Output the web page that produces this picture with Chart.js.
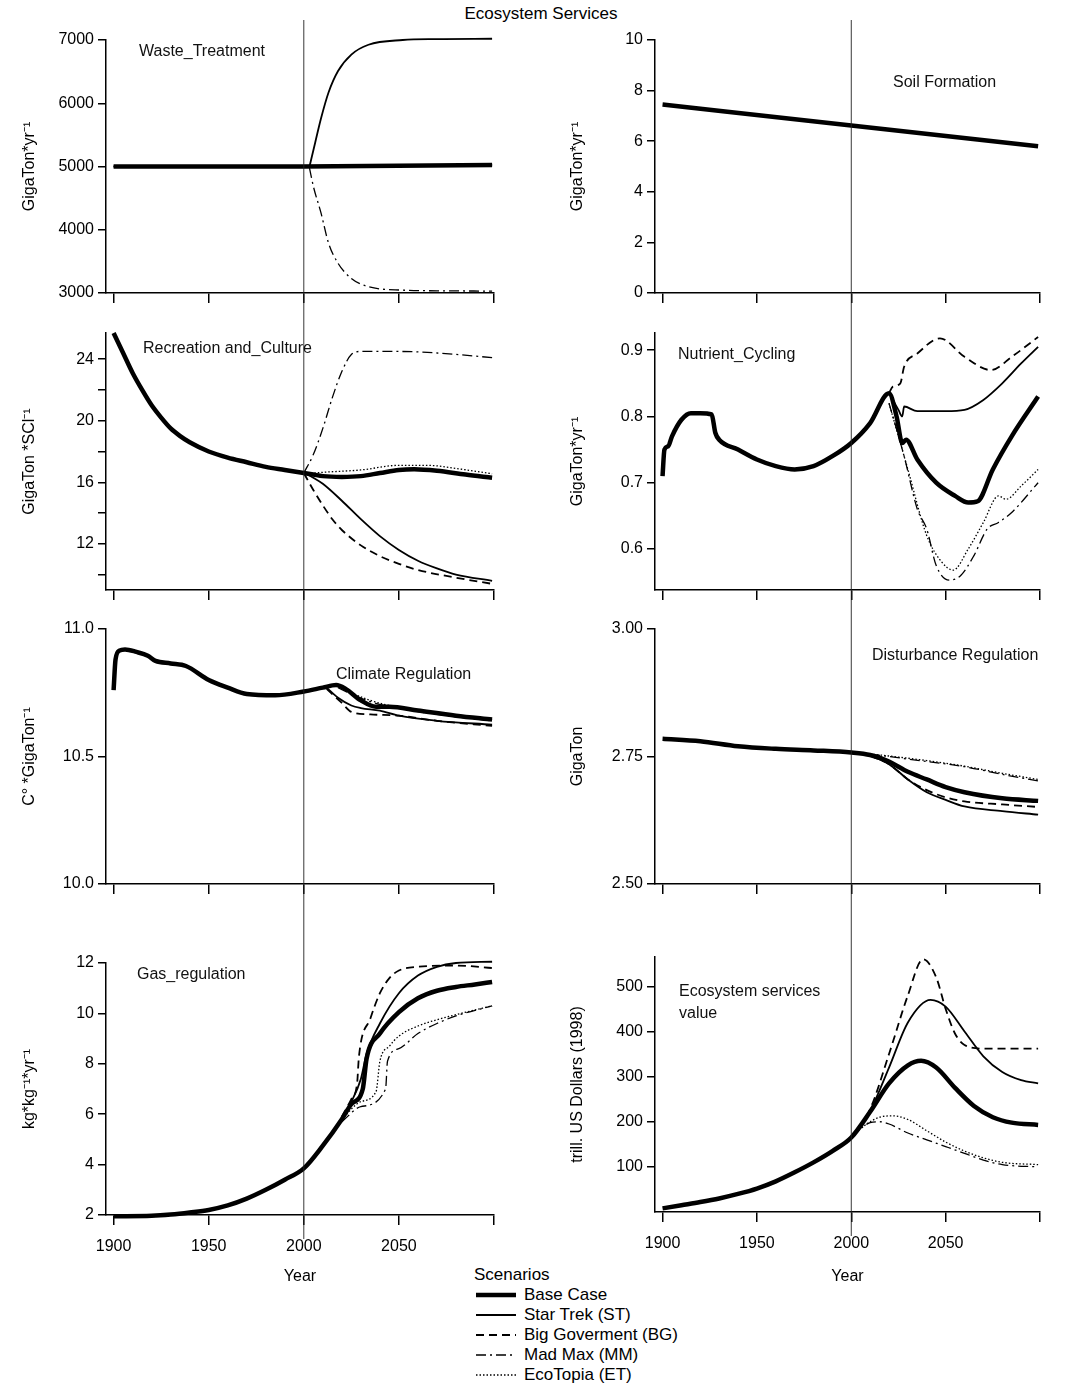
<!DOCTYPE html>
<html>
<head>
<meta charset="utf-8">
<script src="https://cdn.jsdelivr.net/npm/chart.js@4.4.1/dist/chart.umd.min.js"></script>
<style>
  body { margin: 0; background: #fff; width: 1082px; height: 1390px; position: relative; font-family: "Liberation Sans", Arial, sans-serif; }
  canvas { position: absolute; }
  #title { position: absolute; top: 4px; left: 0; width: 1082px; text-align: center; font-size: 17px; }
  #legend { position: absolute; left: 474px; top: 1265px; font-size: 17px; line-height: 20px; }
  #legend .row { display: flex; align-items: center; }
  #legend svg { margin-right: 6px; }
</style>
</head>
<body>
<div id="title">Ecosystem Services</div>
<div id="legend"></div>

<script>
// ---- data: [year, value] pairs ----
const SCENARIOS = ['Base Case', 'Star Trek (ST)', 'Big Goverment (BG)', 'Mad Max (MM)', 'EcoTopia (ET)'];
const X_TICKS = [1900, 1950, 2000, 2050, 2100];

const wasteBase = [[1900, 5000], [2000, 5000], [2099, 5025]];
const wasteST = [[2003, 5000], [2006, 5380], [2009, 5755], [2013, 6170], [2018, 6510], [2025, 6770], [2034, 6925], [2052, 7000], [2070, 7015], [2099, 7020]];
const wasteMM = [[2003, 4975], [2005, 4690], [2009, 4270], [2013, 3790], [2018, 3470], [2025, 3230], [2034, 3100], [2052, 3045], [2070, 3035], [2099, 3030]];

const soilBase = [[1900, 7.45], [2000, 6.62], [2099, 5.8]];

const recBase = [[1900, 25.7], [1905, 24.4], [1910, 23.1], [1915, 22.0], [1920, 21.0], [1925, 20.2], [1930, 19.5], [1935, 19.0], [1940, 18.6], [1950, 18.0], [1960, 17.6], [1970, 17.3], [1980, 17.0], [1990, 16.8], [2000, 16.6], [2005, 16.5], [2010, 16.4], [2020, 16.35], [2030, 16.4], [2040, 16.6], [2050, 16.8], [2058, 16.85], [2070, 16.75], [2085, 16.5], [2099, 16.3]];
const recST = [[2000, 16.6], [2005, 16.3], [2010, 15.9], [2020, 14.8], [2030, 13.6], [2040, 12.5], [2050, 11.6], [2060, 10.9], [2070, 10.4], [2080, 10.0], [2099, 9.6]];
const recBG = [[2000, 16.6], [2005, 15.5], [2010, 14.5], [2015, 13.6], [2020, 12.9], [2030, 11.9], [2040, 11.2], [2050, 10.7], [2060, 10.3], [2080, 9.8], [2099, 9.4]];
const recMM = [[2000, 16.6], [2005, 17.8], [2010, 19.5], [2015, 21.5], [2020, 23.2], [2025, 24.3], [2030, 24.5], [2050, 24.5], [2070, 24.4], [2099, 24.1]];
const recET = [[2000, 16.6], [2005, 16.6], [2010, 16.65], [2030, 16.8], [2050, 17.1], [2065, 17.1], [2080, 16.9], [2099, 16.55]];

const nutBase = [[1900, 0.71], [1901, 0.75], [1903, 0.755], [1905, 0.77], [1910, 0.795], [1915, 0.805], [1920, 0.805], [1926, 0.803], [1928, 0.775], [1930, 0.765], [1940, 0.75], [1950, 0.735], [1960, 0.725], [1970, 0.72], [1980, 0.725], [1990, 0.74], [2000, 0.76], [2010, 0.79], [2020, 0.835], [2024, 0.80], [2027, 0.76], [2029, 0.765], [2035, 0.735], [2045, 0.70], [2055, 0.68], [2062, 0.67], [2067, 0.672], [2075, 0.72], [2085, 0.77], [2099, 0.83]];
const nutST = [[2020, 0.835], [2025, 0.81], [2027, 0.80], [2028, 0.815], [2035, 0.808], [2050, 0.808], [2060, 0.81], [2070, 0.825], [2080, 0.85], [2090, 0.88], [2099, 0.905]];
const nutBG = [[2020, 0.835], [2022, 0.845], [2026, 0.85], [2028, 0.875], [2035, 0.895], [2047, 0.918], [2060, 0.89], [2074, 0.87], [2085, 0.89], [2099, 0.92]];
const nutMM = [[2020, 0.82], [2028, 0.74], [2035, 0.66], [2040, 0.63], [2045, 0.575], [2052, 0.553], [2058, 0.56], [2065, 0.59], [2072, 0.63], [2078, 0.64], [2085, 0.655], [2099, 0.70]];
const nutET = [[2020, 0.82], [2030, 0.72], [2040, 0.62], [2048, 0.58], [2054, 0.568], [2062, 0.60], [2070, 0.64], [2078, 0.68], [2082, 0.675], [2090, 0.695], [2099, 0.72]];

const cliBase = [[1900, 10.76], [1901, 10.88], [1903, 10.915], [1906, 10.92], [1912, 10.91], [1918, 10.895], [1922, 10.875], [1930, 10.865], [1938, 10.855], [1950, 10.80], [1960, 10.77], [1970, 10.745], [1985, 10.74], [2000, 10.755], [2010, 10.77], [2017, 10.78], [2022, 10.765], [2030, 10.72], [2038, 10.695], [2045, 10.695], [2060, 10.68], [2080, 10.66], [2099, 10.645]];
const cliST = [[2012, 10.77], [2018, 10.73], [2025, 10.70], [2030, 10.69], [2040, 10.68], [2050, 10.66], [2070, 10.64], [2099, 10.625]];
const cliBG = [[2012, 10.765], [2020, 10.71], [2025, 10.675], [2035, 10.665], [2050, 10.66], [2070, 10.64], [2099, 10.62]];
const cliMM = [[2018, 10.77], [2025, 10.745], [2035, 10.715], [2050, 10.69], [2070, 10.665], [2099, 10.64]];
const cliET = [[2020, 10.77], [2025, 10.75], [2035, 10.72], [2045, 10.70], [2060, 10.68], [2099, 10.645]];

const disBase = [[1900, 2.785], [1920, 2.78], [1940, 2.77], [1960, 2.765], [1980, 2.762], [2000, 2.758], [2010, 2.753], [2020, 2.74], [2030, 2.72], [2040, 2.705], [2050, 2.69], [2060, 2.68], [2080, 2.668], [2099, 2.663]];
const disST = [[2010, 2.752], [2020, 2.735], [2030, 2.705], [2040, 2.68], [2050, 2.665], [2060, 2.652], [2080, 2.643], [2099, 2.636]];
const disBG = [[2010, 2.752], [2020, 2.735], [2030, 2.705], [2040, 2.684], [2050, 2.67], [2060, 2.662], [2080, 2.656], [2099, 2.651]];
const disMM = [[2010, 2.755], [2020, 2.75], [2040, 2.74], [2060, 2.73], [2080, 2.715], [2099, 2.702]];
const disET = [[2010, 2.755], [2020, 2.751], [2040, 2.742], [2060, 2.731], [2080, 2.717], [2099, 2.705]];

const gasBase = [[1900, 1.95], [1920, 1.97], [1930, 2.02], [1940, 2.1], [1950, 2.2], [1960, 2.38], [1970, 2.65], [1980, 3.0], [1990, 3.4], [2000, 3.85], [2010, 4.75], [2020, 5.8], [2025, 6.4], [2031, 7.0], [2033, 8.2], [2040, 9.2], [2050, 10.05], [2060, 10.6], [2070, 10.9], [2080, 11.05], [2090, 11.15], [2099, 11.25]];
const gasST = [[2020, 5.85], [2025, 6.5], [2030, 7.4], [2033, 8.4], [2040, 9.6], [2050, 10.8], [2060, 11.5], [2070, 11.85], [2080, 12.0], [2099, 12.05]];
const gasBG = [[2020, 5.9], [2025, 6.6], [2028, 7.2], [2029, 8.3], [2035, 9.8], [2040, 10.8], [2045, 11.4], [2050, 11.7], [2060, 11.85], [2080, 11.9], [2099, 11.8]];
const gasMM = [[2020, 5.7], [2030, 6.3], [2043, 7.0], [2044, 8.1], [2050, 8.6], [2060, 9.2], [2070, 9.6], [2080, 9.9], [2099, 10.3]];
const gasET = [[2020, 5.8], [2030, 6.5], [2038, 6.9], [2040, 8.1], [2045, 8.7], [2050, 9.1], [2060, 9.5], [2070, 9.75], [2080, 9.95], [2099, 10.3]];

const valBase = [[1900, 8], [1910, 15], [1920, 22], [1930, 30], [1940, 40], [1950, 52], [1960, 68], [1970, 88], [1980, 110], [1990, 135], [2000, 165], [2010, 222], [2020, 285], [2030, 325], [2037, 335], [2045, 320], [2055, 275], [2065, 235], [2075, 210], [2085, 198], [2099, 193]];
const valST = [[2000, 165], [2010, 224], [2020, 320], [2030, 420], [2042, 470], [2050, 455], [2060, 400], [2070, 345], [2080, 310], [2090, 292], [2099, 285]];
const valBG = [[2000, 165], [2010, 228], [2020, 350], [2030, 480], [2038, 560], [2045, 520], [2050, 450], [2055, 395], [2060, 370], [2070, 362], [2099, 362]];
const valMM = [[2000, 165], [2005, 185], [2010, 198], [2015, 200], [2020, 195], [2030, 175], [2040, 160], [2050, 145], [2060, 130], [2070, 115], [2080, 105], [2099, 100]];
const valET = [[2000, 165], [2005, 185], [2010, 200], [2015, 210], [2022, 213], [2030, 205], [2040, 180], [2050, 155], [2060, 135], [2070, 120], [2080, 110], [2099, 105]];

// ---- styling ----
const FONT = '"Liberation Sans", Arial, sans-serif';
const STYLES = [
  { width: 4.5, dash: [] },
  { width: 1.8, dash: [] },
  { width: 1.8, dash: [8, 5] },
  { width: 1.3, dash: [10, 4, 2, 4] },
  { width: 1.3, dash: [1.5, 2] },
];

const panels = [
  { col: 0, top: 20, h: 295, pad: 20, xh: 22, min: 3000, max: 7000, step: 1000, ytitle: 'GigaTon*yr⁻¹',
    series: [wasteBase, wasteST, wasteBase, wasteMM, wasteBase], label: ['Waste_Treatment'], lx: 139, ly: 52 },
  { col: 1, top: 20, h: 295, pad: 20, xh: 22, min: 0, max: 10, step: 2, ytitle: 'GigaTon*yr⁻¹',
    series: [soilBase], label: ['Soil Formation'], lx: 893, ly: 83 },
  { col: 0, top: 315, h: 290, pad: 18, xh: 15, min: 9.0, max: 25.7, ticks: [10, 12, 14, 16, 18, 20, 22, 24], show: [12, 16, 20, 24], ytitle: 'GigaTon *SCl⁻¹',
    series: [recBase, recST, recBG, recMM, recET], label: ['Recreation and_Culture'], lx: 143, ly: 349 },
  { col: 1, top: 315, h: 290, pad: 18, xh: 15, min: 0.538, max: 0.926, ticks: [0.6, 0.7, 0.8, 0.9], ytitle: 'GigaTon*yr⁻¹',
    series: [nutBase, nutST, nutBG, nutMM, nutET], label: ['Nutrient_Cycling'], lx: 678, ly: 355 },
  { col: 0, top: 605, h: 300, pad: 24, xh: 21, min: 10, max: 11, step: 0.5, dec: 1, ytitle: 'C° *GigaTon⁻¹',
    series: [cliBase, cliST, cliBG, cliMM, cliET], label: ['Climate Regulation'], lx: 336, ly: 675 },
  { col: 1, top: 605, h: 300, pad: 24, xh: 21, min: 2.5, max: 3.0, step: 0.25, dec: 2, ytitle: 'GigaTon',
    series: [disBase, disST, disBG, disMM, disET], label: ['Disturbance Regulation'], lx: 872, ly: 656 },
  { col: 0, top: 905, h: 385, pad: 58, xh: 75, min: 2, max: 12, step: 2, ytitle: 'kg*kg⁻¹*yr⁻¹', bottom: true,
    series: [gasBase, gasST, gasBG, gasMM, gasET], label: ['Gas_regulation'], lx: 137, ly: 975 },
  { col: 1, top: 905, h: 385, pad: 52, xh: 78, min: 0, max: 565, ticks: [100, 200, 300, 400, 500], ytitle: 'trill. US Dollars (1998)', bottom: true,
    series: [valBase, valST, valBG, valMM, valET], label: ['Ecosystem services', 'value'], lx: 679, ly: 992 },
];

const overlay = {
  id: 'overlay',
  afterDatasetsDraw(chart, args, opts) {
    const { ctx, chartArea } = chart;
    const x = chart.scales.x.getPixelForValue(2000);
    ctx.save();
    ctx.strokeStyle = '#222';
    ctx.lineWidth = 0.9;
    ctx.beginPath();
    ctx.moveTo(x, 0);
    ctx.lineTo(x, opts.bottom ? chartArea.bottom + 24 : chart.height);
    ctx.stroke();
    ctx.fillStyle = '#111';
    ctx.font = '16px ' + FONT;
    ctx.textBaseline = 'middle';
    opts.label.forEach((t, i) => ctx.fillText(t, opts.lx, opts.ly + i * 22));
    ctx.restore();
  }
};

panels.forEach(p => {
  const left = p.col === 0 ? 0 : 540;
  const cv = document.createElement('canvas');
  cv.width = 542; cv.height = p.h;
  cv.style.left = left + 'px';
  cv.style.top = p.top + 'px';
  document.body.appendChild(cv);

  const yTicks = p.ticks || (() => { const a = []; for (let v = p.min; v <= p.max + 1e-9; v += p.step) a.push(+v.toFixed(4)); return a; })();
  const padLeft = p.col === 0 ? 16 : 24;
  const axisW = p.col === 0 ? 90 : 91;

  new Chart(cv, {
    type: 'line',
    data: {
      datasets: p.series.map((s, i) => ({
        label: SCENARIOS[i],
        data: s.map(([x, y]) => ({ x, y })),
        borderColor: '#000',
        borderWidth: STYLES[i].width,
        borderDash: STYLES[i].dash,
        pointRadius: 0,
        fill: false,
        clip: 10,
        cubicInterpolationMode: 'monotone',
      })).reverse()
    },
    options: {
      responsive: false,
      devicePixelRatio: 1,
      animation: false,
      layout: { padding: { top: p.pad, right: p.col === 0 ? 48 : 42, bottom: 0, left: padLeft } },
      plugins: {
        legend: { display: false },
        tooltip: { enabled: false },
        overlay: { label: p.label, lx: p.lx - left, ly: p.ly - p.top, bottom: p.bottom }
      },
      scales: {
        x: {
          type: 'linear', min: 1896, max: 2100,
          afterBuildTicks: s => { s.ticks = X_TICKS.map(v => ({ value: v })); },
          afterFit: s => { s.height = p.xh; },
          border: { display: true, color: '#000', width: 1.5 },
          grid: { drawOnChartArea: false, drawTicks: true, tickLength: 10, color: '#000', lineWidth: 1.5 },
          ticks: {
            display: !!p.bottom, color: '#000', font: { family: FONT, size: 16 }, maxRotation: 0, padding: 12,
            callback: v => v === 2100 ? '' : String(v)
          },
          title: { display: !!p.bottom, text: 'Year', color: '#000', font: { family: FONT, size: 16 }, padding: { top: 2 } }
        },
        y: {
          min: p.min, max: p.max,
          afterBuildTicks: s => { s.ticks = yTicks.map(v => ({ value: v })); },
          afterFit: s => { s.width = axisW; },
          border: { display: true, color: '#000', width: 1.5 },
          grid: { drawOnChartArea: false, drawTicks: true, tickLength: 8, color: '#000', lineWidth: 1.5 },
          ticks: {
            color: '#000', font: { family: FONT, size: 16 }, padding: 4,
            callback: v => {
              if (p.show && !p.show.includes(v)) return '';
              return p.dec != null ? v.toFixed(p.dec) : String(v);
            }
          },
          title: { display: true, text: p.ytitle, color: '#000', font: { family: FONT, size: 16 }, padding: { bottom: 0 } }
        }
      }
    },
    plugins: [overlay]
  });
});

// legend
const lg = document.getElementById('legend');
lg.innerHTML = '<div>Scenarios</div>' + SCENARIOS.map((name, i) => {
  const st = STYLES[i];
  return '<div class="row"><svg width="44" height="10"><line x1="2" y1="5" x2="42" y2="5" stroke="#000" stroke-width="' +
    st.width + '" stroke-dasharray="' + (st.dash.join(',') || 'none') + '"/></svg>' + name + '</div>';
}).join('');
</script>
</body>
</html>
